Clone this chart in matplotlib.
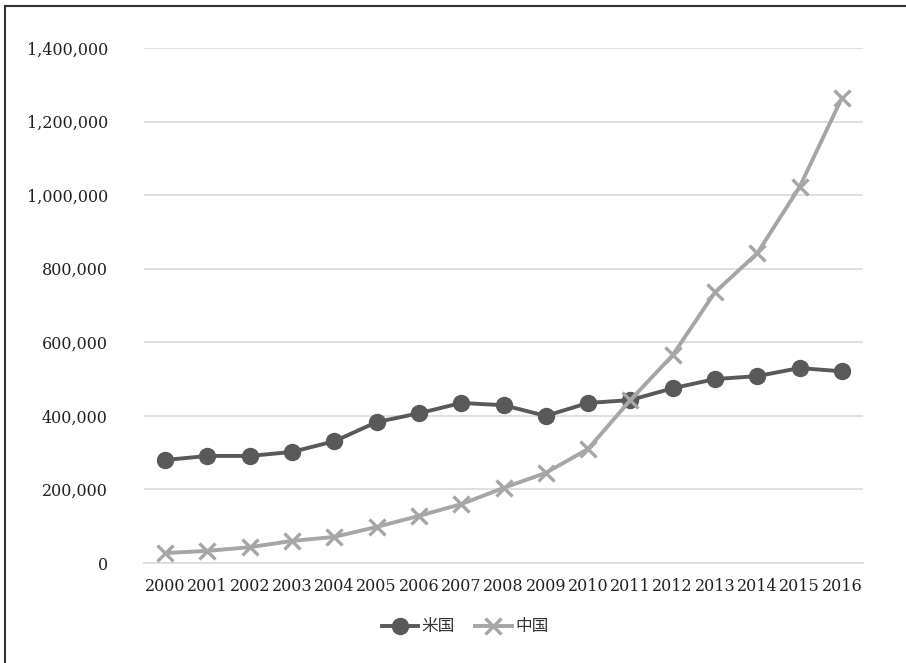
import matplotlib
matplotlib.use("Agg")
import matplotlib.pyplot as plt
from matplotlib.lines import Line2D
from matplotlib.ticker import FuncFormatter

years = [str(y) for y in range(2000, 2017)]
us_values = [280000, 291000, 291000, 302000, 331000, 383000, 407000, 435000,
             429000, 400000, 435000, 443000, 475000, 500000, 508000, 530000, 521000]
cn_values = [27000, 33000, 43000, 60000, 71000, 98000, 128000, 160000,
             204000, 245000, 310000, 443000, 565000, 736000, 842000, 1022000, 1264000]
series_names = ["米国", "中国"]
y_ticks = [0, 200000, 400000, 600000, 800000, 1000000, 1200000, 1400000]

plt.rcParams['font.family'] = ['DejaVu Serif']

fig = plt.figure(figsize=(9.06, 6.63), dpi=100)
ax = fig.add_axes([144/906, 1-563/663, (863-144)/906, (563-48)/663])

x = list(range(len(years)))
ax.plot(x, us_values, color="#595959", lw=2.8, marker="o", ms=11.5,
        label=series_names[0], zorder=3)
ax.plot(x, cn_values, color="#a6a6a6", lw=2.8, marker="x", ms=12, mew=2.4,
        label=series_names[1], zorder=4)

ax.set_xlim(-0.5, len(years) - 0.5)
ax.set_ylim(0, 1400000)
ax.set_xticks(x)
ax.set_xticklabels(years)
ax.set_yticks(y_ticks)
ax.yaxis.set_major_formatter(FuncFormatter(lambda v, p: f"{int(v):,}"))
ax.grid(axis="y", color="#d9d9d9", lw=1.2)
ax.set_axisbelow(True)
for s in ["top", "right", "left"]:
    ax.spines[s].set_visible(False)
ax.spines["bottom"].set_color("#d9d9d9")
ax.spines["bottom"].set_linewidth(1.2)
ax.tick_params(axis="both", length=0, labelsize=11.5, colors="#222222")
ax.tick_params(axis="y", pad=26)
ax.tick_params(axis="x", pad=11)

leg = fig.legend(loc="center", bbox_to_anchor=(465/906, 1-627/663), ncol=2,
                 frameon=False, handlelength=2.2, columnspacing=1.2,
                 handletextpad=0.2,
                 prop={"family": ["Noto Sans CJK JP"], "size": 12})
for t in leg.get_texts():
    t.set_color("#333333")

# frame along the top and left edges
fig.add_artist(Line2D([5/906, 1], [1-6/663, 1-6/663], color="#333333", lw=1.5,
                      transform=fig.transFigure))
fig.add_artist(Line2D([5/906, 5/906], [0, 1-6/663], color="#333333", lw=1.5,
                      transform=fig.transFigure))

fig.savefig("out.png", dpi=100)
